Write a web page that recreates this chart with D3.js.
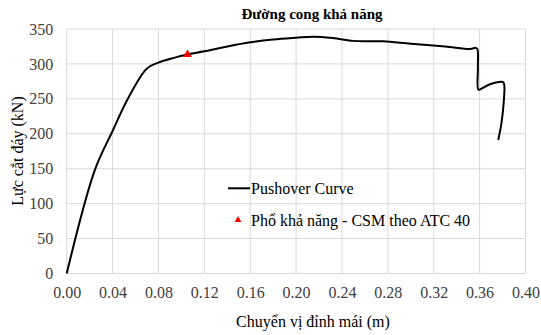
<!DOCTYPE html>
<html><head><meta charset="utf-8">
<script src="https://cdn.jsdelivr.net/npm/d3@7"></script>
<style>body{margin:0;background:#fff}svg{display:block}</style>
</head><body><svg id="c" width="541" height="335"></svg>
<script>
const titleText = "Đường cong khả năng";
const xLabel = "Chuyển vị đỉnh mái (m)";
const yLabel = "Lực cắt đáy (kN)";
const xTicks = [0,0.04,0.08,0.12,0.16,0.20,0.24,0.28,0.32,0.36,0.40];
const yTicks = [0,50,100,150,200,250,300,350];
const pushX = [0,0.0245,0.040,0.0523,0.068,0.073,0.080,0.092,0.105,0.120,0.140,0.160,0.180,0.200,0.215,0.232,0.250,0.262,0.276,0.300,0.330,0.352,0.3565,0.358,0.3585,0.3590,0.3620,0.3690,0.3785,0.3805,0.3815,0.3810,0.3790,0.3762];
const pushY = [0,148,204,247,290,297,302,308,313.5,318,325,331,335,337.5,339,337,333,332.5,332.5,329,325,321.5,323,321.5,295,263,265,271,274.5,274,270,245,215,191];
const csmX = [0.1053];
const csmY = [313.5];
const legendNames = ["Pushover Curve","Phổ khả năng - CSM theo ATC 40"];

const FONT = "'Liberation Serif','Times New Roman',serif";
const svg = d3.select("#c");
const L=66.7,R=525.5,T=29,B=273.5;
const x = d3.scaleLinear().domain([0,0.40]).range([L,R]);
const y = d3.scaleLinear().domain([0,350]).range([B,T]);
const grid="#d9d9d9";

svg.append("g").selectAll("line").data(xTicks).join("line")
 .attr("x1",d=>x(d)).attr("x2",d=>x(d)).attr("y1",T).attr("y2",B)
 .attr("stroke",grid).attr("stroke-width",1);
svg.append("g").selectAll("line").data(yTicks).join("line")
 .attr("x1",L).attr("x2",R).attr("y1",d=>y(d)).attr("y2",d=>y(d))
 .attr("stroke",grid).attr("stroke-width",1);

const xa = svg.append("g").attr("transform",`translate(0,${B})`)
 .call(d3.axisBottom(x).tickValues(xTicks).tickFormat(d3.format(".2f")).tickSize(0).tickPadding(13.4));
xa.select(".domain").remove();
xa.selectAll("text").attr("font-size",16).attr("fill","#404040").style("font-family",FONT);
const ya = svg.append("g").attr("transform",`translate(${L},0)`)
 .call(d3.axisLeft(y).tickValues(yTicks).tickSize(0).tickPadding(13.5));
ya.select(".domain").remove();
ya.selectAll("text").attr("font-size",16).attr("fill","#404040").style("font-family",FONT);

const pts = pushX.map((d,i)=>[d,pushY[i]]);
svg.append("path").datum(pts)
 .attr("d",d3.line().x(d=>x(d[0])).y(d=>y(d[1])).curve(d3.curveCatmullRom.alpha(0.5)))
 .attr("fill","none").attr("stroke","#000").attr("stroke-width",2).attr("stroke-linejoin","round");

const tri = d3.symbol().type(d3.symbolTriangle).size(34);
svg.append("g").selectAll("path").data(csmX.map((d,i)=>[d,csmY[i]])).join("path")
 .attr("d",tri).attr("transform",d=>`translate(${x(d[0])},${y(d[1])})`).attr("fill","#ff0000");

svg.append("text").attr("x",312).attr("y",19).attr("text-anchor","middle").style("font-family",FONT)
 .attr("font-size",15).attr("font-weight","bold").attr("fill","#000").text(titleText);
svg.append("text").attr("x",313).attr("y",327).attr("text-anchor","middle").style("font-family",FONT)
 .attr("font-size",16).attr("fill","#000").text(xLabel);
svg.append("text").attr("transform",`translate(23,151) rotate(-90)`).attr("text-anchor","middle").style("font-family",FONT)
 .attr("font-size",16).attr("fill","#000").text(yLabel);

// legend
const lg = svg.append("g");
lg.append("line").attr("x1",228).attr("x2",250).attr("y1",188.3).attr("y2",188.3).attr("stroke","#000").attr("stroke-width",2);
lg.append("text").attr("x",251).attr("y",194).style("font-family",FONT).attr("font-size",16).attr("fill","#000").text(legendNames[0]);
lg.append("path").attr("d",d3.symbol().type(d3.symbolTriangle).size(20)).attr("transform","translate(238,220)").attr("fill","#ff0000");
lg.append("text").attr("x",251).attr("y",226).style("font-family",FONT).attr("font-size",16).attr("fill","#000").text(legendNames[1]);
</script></body></html>
